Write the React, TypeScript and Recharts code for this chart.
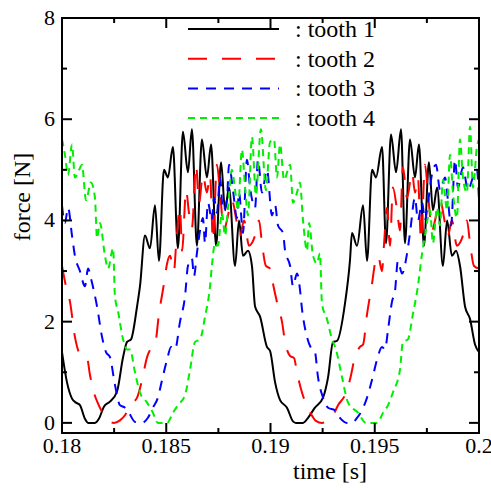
import { LineChart, Line, XAxis, YAxis, Legend } from "recharts";

// [time (s), force (N)]
const tooth1: [number, number][] = [
    [0.18, 1.4], [0.18024, 0.8], [0.18048, 0.48], [0.18067, 0.4], [0.18086, 0.35], [0.1811, 0.08],
    [0.18125, 0], [0.18158, 0], [0.18177, 0.08], [0.18201, 0.32], [0.1823, 0.42], [0.18264, 0.62],
    [0.18293, 1.3], [0.18312, 1.6], [0.18331, 1.65], [0.1836, 2.3], [0.18374, 2.7], [0.18398, 3.7],
    [0.18422, 3.45], [0.18446, 4.3], [0.18465, 3.2], [0.18489, 5.0], [0.18508, 4.85], [0.18532, 5.45],
    [0.18556, 3.45], [0.1858, 5.75], [0.18604, 4.95], [0.18623, 5.8], [0.18647, 3.5], [0.18671, 5.6],
    [0.18695, 4.85], [0.18715, 5.5], [0.18739, 3.5], [0.18763, 5.15], [0.18782, 4.2], [0.18801, 4.65],
    [0.1883, 3.1], [0.18849, 4.0], [0.18868, 3.3], [0.18892, 3.4], [0.18911, 3.1], [0.18926, 2.3],
    [0.1895, 2.1], [0.18983, 1.5], [0.18998, 1.42], [0.19022, 0.8], [0.19046, 0.45], [0.19079, 0.3],
    [0.19108, 0.03], [0.19122, 0], [0.19156, 0], [0.1918, 0.1], [0.19213, 0.3], [0.19252, 0.5],
    [0.19276, 0.9], [0.193, 1.6], [0.19319, 1.62], [0.19357, 2.35], [0.19381, 3.2], [0.19391, 3.75],
    [0.19415, 3.5], [0.19444, 4.3], [0.19463, 3.2], [0.19487, 5.0], [0.19506, 4.85], [0.19535, 5.45],
    [0.19554, 3.55], [0.19578, 5.7], [0.19602, 4.95], [0.19626, 5.8], [0.19645, 3.55], [0.19669, 5.6],
    [0.19693, 4.85], [0.19712, 5.5], [0.19736, 3.5], [0.1976, 5.15], [0.19779, 4.2], [0.19799, 4.65],
    [0.19827, 3.1], [0.19847, 4.0], [0.1987, 3.3], [0.1989, 3.4], [0.19909, 3.1], [0.19933, 2.3],
    [0.19957, 2.05], [0.19981, 1.55], [0.2, 1.4],
];

const tooth2: [number, number][] = [
    [0.18, 3.1], [0.18019, 2.7], [0.18038, 2.4], [0.18062, 1.7], [0.18096, 1.3], [0.1812, 1.28],
    [0.18134, 0.95], [0.18153, 0.6], [0.18173, 0.38], [0.18197, 0.18], [0.18221, 0.04], [0.18249, 0],
    [0.18278, 0.05], [0.18302, 0.15], [0.18326, 0.35], [0.1836, 0.5], [0.18384, 0.85], [0.18408, 1.3],
    [0.18432, 1.5], [0.18446, 1.55], [0.18465, 2.15], [0.18489, 2.75], [0.18504, 3.15], [0.18518, 3.3],
    [0.18537, 3.0], [0.18547, 3.5], [0.18566, 4.25], [0.18576, 3.4], [0.18595, 4.6], [0.18609, 4.15],
    [0.18623, 3.85], [0.18643, 5.1], [0.18657, 4.35], [0.18676, 4.9], [0.18695, 4.55], [0.1871, 4.9],
    [0.18724, 3.6], [0.18743, 5.1], [0.18758, 4.55], [0.18777, 3.8], [0.18791, 4.0], [0.18815, 4.4],
    [0.18839, 3.95], [0.18854, 3.7], [0.18873, 4.0], [0.18897, 3.5], [0.18926, 3.7], [0.18945, 4.0],
    [0.18959, 3.55], [0.18978, 3.1], [0.18998, 3.05], [0.19012, 2.75], [0.19036, 2.3], [0.19055, 2.0],
    [0.1907, 1.6], [0.19094, 1.32], [0.19113, 1.28], [0.19127, 1.0], [0.19151, 0.6], [0.1917, 0.38],
    [0.19194, 0.18], [0.19218, 0.04], [0.19247, 0], [0.19276, 0.05], [0.193, 0.15], [0.19324, 0.35],
    [0.19357, 0.55], [0.19381, 0.85], [0.19405, 1.3], [0.19429, 1.5], [0.19444, 1.55], [0.19463, 2.15],
    [0.19487, 2.75], [0.19501, 3.15], [0.19516, 3.3], [0.19535, 3.0], [0.19544, 3.5], [0.19559, 4.25],
    [0.19573, 3.5], [0.19587, 4.65], [0.19607, 4.2], [0.19621, 3.8], [0.19635, 5.05], [0.19655, 4.45],
    [0.19679, 4.95], [0.19693, 4.55], [0.19707, 4.85], [0.19722, 3.6], [0.19741, 5.1], [0.19755, 4.55],
    [0.19775, 3.8], [0.19789, 4.0], [0.19813, 4.4], [0.19837, 3.95], [0.19851, 3.7], [0.1987, 4.0],
    [0.19894, 3.5], [0.19923, 3.7], [0.19942, 4.0], [0.19957, 3.55], [0.19976, 3.1], [0.2, 3.05],
];

const tooth3: [number, number][] = [
    [0.18, 4.3], [0.18014, 3.95], [0.18029, 4.25], [0.18048, 3.7], [0.18062, 3.3], [0.18086, 3.0],
    [0.1811, 2.7], [0.18125, 3.05], [0.18139, 2.85], [0.18168, 2.3], [0.18192, 1.7], [0.18211, 1.4],
    [0.1823, 1.3], [0.18254, 0.75], [0.18278, 0.35], [0.18302, 0.3], [0.18321, 0.2], [0.1835, 0.02],
    [0.18384, 0], [0.18412, 0.1], [0.18436, 0.3], [0.1846, 0.5], [0.1848, 0.85], [0.18504, 1.25],
    [0.18523, 1.5], [0.18542, 1.45], [0.18566, 2.0], [0.1859, 2.5], [0.18604, 3.1], [0.18623, 3.25],
    [0.18633, 2.9], [0.18647, 3.35], [0.18662, 3.8], [0.18676, 4.05], [0.18686, 3.55], [0.187, 4.35],
    [0.18719, 4.0], [0.18729, 4.45], [0.18743, 4.15], [0.18758, 4.85], [0.18772, 4.2], [0.18791, 4.4],
    [0.18801, 5.1], [0.1882, 4.6], [0.18839, 4.05], [0.18849, 4.55], [0.18868, 3.75], [0.18887, 5.2],
    [0.18902, 4.65], [0.18926, 4.25], [0.1894, 5.2], [0.18959, 4.55], [0.18983, 5.0], [0.19007, 4.1],
    [0.19022, 4.3], [0.19036, 3.9], [0.1906, 3.75], [0.1907, 3.4], [0.19094, 3.1], [0.19108, 2.7],
    [0.19127, 2.95], [0.19141, 2.65], [0.19151, 2.25], [0.19175, 1.7], [0.19199, 1.45], [0.19213, 1.4],
    [0.19228, 0.9], [0.19252, 0.5], [0.19276, 0.3], [0.19309, 0.25], [0.19333, 0.1], [0.19367, 0],
    [0.19391, 0], [0.19415, 0.1], [0.19439, 0.25], [0.19463, 0.5], [0.19487, 0.85], [0.19511, 1.25],
    [0.19535, 1.5], [0.19549, 1.45], [0.19564, 1.85], [0.19583, 2.4], [0.19597, 2.6], [0.19611, 3.2],
    [0.19631, 2.95], [0.19655, 3.35], [0.19669, 3.75], [0.19693, 4.45], [0.19707, 4.0], [0.19727, 4.35],
    [0.19741, 4.0], [0.19755, 4.35], [0.19779, 5.0], [0.19794, 5.1], [0.19813, 4.6], [0.19837, 4.85],
    [0.19851, 4.4], [0.19866, 3.9], [0.19885, 5.2], [0.19899, 4.65], [0.19923, 5.05], [0.19947, 4.6],
    [0.19971, 4.85], [0.1999, 5.0], [0.2, 4.4],
];

const tooth4: [number, number][] = [
    [0.18, 5.6], [0.18014, 5.3], [0.18029, 4.9], [0.18048, 5.5], [0.18062, 4.85], [0.18082, 5.0],
    [0.18096, 5.1], [0.18115, 4.4], [0.18139, 4.75], [0.18158, 4.45], [0.18168, 3.65], [0.18182, 3.95],
    [0.18206, 3.3], [0.18221, 3.05], [0.18245, 3.45], [0.18254, 2.5], [0.18269, 2.2], [0.18293, 1.65],
    [0.18312, 1.45], [0.18326, 1.45], [0.1835, 1.0], [0.18374, 0.6], [0.18408, 0.4], [0.18436, 0.2],
    [0.1846, 0], [0.18504, 0], [0.18532, 0.2], [0.18556, 0.35], [0.1859, 0.55], [0.18614, 1.05],
    [0.18638, 1.6], [0.18662, 1.65], [0.18686, 2.1], [0.1871, 2.7], [0.18719, 3.1], [0.18734, 3.55],
    [0.18748, 3.5], [0.18767, 4.15], [0.18782, 3.7], [0.18796, 4.25], [0.18815, 5.0], [0.1883, 4.6],
    [0.18844, 4.2], [0.18863, 5.4], [0.18878, 4.65], [0.18892, 4.1], [0.18911, 5.65], [0.1893, 4.5],
    [0.18954, 5.8], [0.18978, 4.6], [0.18998, 5.55], [0.19017, 5.6], [0.19031, 4.85], [0.19046, 5.5],
    [0.19065, 4.8], [0.19094, 5.1], [0.19108, 4.35], [0.19127, 4.55], [0.19141, 4.75], [0.19156, 4.0],
    [0.19175, 3.4], [0.19185, 3.95], [0.19204, 3.3], [0.19223, 3.15], [0.19237, 3.35], [0.19247, 2.35],
    [0.19271, 2.05], [0.19295, 1.65], [0.19314, 1.45], [0.19343, 0.9], [0.19372, 0.4], [0.1942, 0.2],
    [0.19458, 0], [0.19511, 0], [0.1954, 0.2], [0.19564, 0.35], [0.19587, 0.6], [0.19621, 1.05],
    [0.19635, 1.6], [0.19659, 1.65], [0.19683, 2.15], [0.19707, 2.7], [0.19727, 3.35], [0.19741, 3.7],
    [0.19765, 4.2], [0.19779, 3.55], [0.19799, 4.25], [0.19813, 3.9], [0.19827, 4.8], [0.19847, 4.2],
    [0.19861, 5.3], [0.19875, 4.55], [0.19894, 4.05], [0.19909, 5.6], [0.19923, 4.85], [0.19942, 4.55],
    [0.19957, 5.85], [0.19971, 4.65], [0.1999, 5.45], [0.2, 5.6],
];

const xMajor = [0.18, 0.185, 0.19, 0.195, 0.2];
const xMinor = [0.1825, 0.1875, 0.1925, 0.1975];
const yMajor = [0, 2, 4, 6, 8];
const yMinor = [1, 3, 5, 7];

const series = [
    { name: "tooth 1", points: tooth1, color: "#000000", dash: undefined },
    { name: "tooth 2", points: tooth2, color: "#ff0000", dash: "19 15" },
    { name: "tooth 3", points: tooth3, color: "#0000ff", dash: "10 8" },
    { name: "tooth 4", points: tooth4, color: "#00ee00", dash: "7 5" },
];

const X_DOMAIN: [number, number] = [0.18, 0.2];
const Y_DOMAIN: [number, number] = [-0.2, 8];

// layout
const CHART_W = 483;
const CHART_H = 476;
const MARGIN = { top: 10, right: 12, bottom: 0, left: 0 };
const Y_AXIS_W = 54;
const X_AXIS_H = 51;
const PLOT_X = MARGIN.left + Y_AXIS_W;
const PLOT_Y = MARGIN.top;
const PLOT_W = CHART_W - MARGIN.left - MARGIN.right - Y_AXIS_W;
const PLOT_H = CHART_H - MARGIN.top - MARGIN.bottom - X_AXIS_H;
const MAJOR_LEN = 10;
const MINOR_LEN = 5;

const textStyle = { fontFamily: "Liberation Serif, DejaVu Serif, serif", fill: "#000" };
const xTicks = [...xMajor, ...xMinor].sort((a, b) => a - b);
const yTicks = [...yMajor, ...yMinor].sort((a, b) => a - b);

// tick positions on the frame (same linear mapping as the axes)
const tickX = (t: number) => PLOT_X + ((t - X_DOMAIN[0]) / (X_DOMAIN[1] - X_DOMAIN[0])) * PLOT_W;
const tickY = (v: number) => PLOT_Y + ((Y_DOMAIN[1] - v) / (Y_DOMAIN[1] - Y_DOMAIN[0])) * PLOT_H;

const BottomLabel = ({ x, y, payload }: any) =>
    xMajor.includes(payload.value) ? (
        <text x={x} y={y + 20} textAnchor="middle" fontSize={22} style={textStyle}>
            {payload.value}
        </text>
    ) : (
        <g />
    );

const LeftLabel = ({ x, y, payload }: any) =>
    yMajor.includes(payload.value) ? (
        <text x={x - 7} y={y + 7} textAnchor="end" fontSize={22} style={textStyle}>
            {payload.value}
        </text>
    ) : (
        <g />
    );

const XTitle = () => (
    <text x={322} y={471} textAnchor="middle" fontSize={24} style={textStyle}>
        time [s]
    </text>
);

const YTitle = () => (
    <text
        x={14}
        y={189}
        transform="rotate(-90, 14, 189)"
        textAnchor="middle"
        dominantBaseline="central"
        fontSize={24}
        style={textStyle}
    >
        force [N]
    </text>
);

const LegendBox = () => (
    <svg width={300} height={125}>
        {series.map((s, i) => {
            const cy = 12 + i * 29.7;
            return (
                <g key={s.name}>
                    <line x1={0} x2={91} y1={cy} y2={cy} stroke={s.color} strokeWidth={2} strokeDasharray={s.dash} />
                    <text x={107} y={cy} dominantBaseline="central" fontSize={24} style={textStyle}>
                        : {s.name}
                    </text>
                </g>
            );
        })}
    </svg>
);

// box frame with inward ticks on all four sides, laid over the chart
const Frame = () => {
    const left = PLOT_X;
    const right = PLOT_X + PLOT_W;
    const top = PLOT_Y;
    const bottom = PLOT_Y + PLOT_H;
    return (
        <svg
            width={CHART_W}
            height={CHART_H}
            style={{ position: "absolute", left: 0, top: 0, pointerEvents: "none", overflow: "visible" }}
        >
            <rect x={left} y={top} width={PLOT_W} height={PLOT_H} fill="none" stroke="#000" strokeWidth={2} />
            {xTicks.map((t) => {
                const len = xMajor.includes(t) ? MAJOR_LEN : MINOR_LEN;
                const px = tickX(t);
                return (
                    <g key={`x${t}`}>
                        <line x1={px} x2={px} y1={bottom} y2={bottom - len} stroke="#000" strokeWidth={2} />
                        <line x1={px} x2={px} y1={top} y2={top + len} stroke="#000" strokeWidth={2} />
                    </g>
                );
            })}
            {yTicks.map((v) => {
                const len = yMajor.includes(v) ? MAJOR_LEN : MINOR_LEN;
                const py = tickY(v);
                return (
                    <g key={`y${v}`}>
                        <line x1={left} x2={left + len} y1={py} y2={py} stroke="#000" strokeWidth={2} />
                        <line x1={right} x2={right - len} y1={py} y2={py} stroke="#000" strokeWidth={2} />
                    </g>
                );
            })}
        </svg>
    );
};

const axisStroke = { stroke: "#000", strokeWidth: 2 };

export default function App() {
    return (
        <>
            <style>{`body { margin: 0; } .recharts-surface { overflow: visible; }`}</style>
            <div style={{ position: "absolute", left: 8, top: 8, width: CHART_W, height: CHART_H }}>
                <LineChart width={CHART_W} height={CHART_H} margin={MARGIN}>
                    <XAxis
                        dataKey="t"
                        type="number"
                        domain={X_DOMAIN}
                        ticks={xTicks}
                        interval={0}
                        allowDataOverflow
                        height={X_AXIS_H}
                        tickSize={0}
                        tickMargin={0}
                        tickLine={false}
                        axisLine={axisStroke}
                        tick={<BottomLabel />}
                        label={<XTitle />}
                    />
                    <YAxis
                        type="number"
                        domain={Y_DOMAIN}
                        ticks={yTicks}
                        interval={0}
                        allowDataOverflow
                        width={Y_AXIS_W}
                        tickSize={0}
                        tickMargin={0}
                        tickLine={false}
                        axisLine={axisStroke}
                        tick={<LeftLabel />}
                        label={<YTitle />}
                    />
                    <Legend
                        layout="vertical"
                        align="center"
                        verticalAlign="middle"
                        content={<LegendBox />}
                        wrapperStyle={{ left: 180, top: 9, width: 300, height: 125 }}
                    />
                    {series.map((s) => (
                        <Line
                            key={s.name}
                            name={s.name}
                            data={s.points.map(([t, f]) => ({ t, f }))}
                            dataKey="f"
                            type="monotone"
                            stroke={s.color}
                            strokeWidth={2}
                            strokeDasharray={s.dash}
                            dot={false}
                            activeDot={false}
                            isAnimationActive={false}
                        />
                    ))}
                </LineChart>
                <Frame />
            </div>
        </>
    );
}
